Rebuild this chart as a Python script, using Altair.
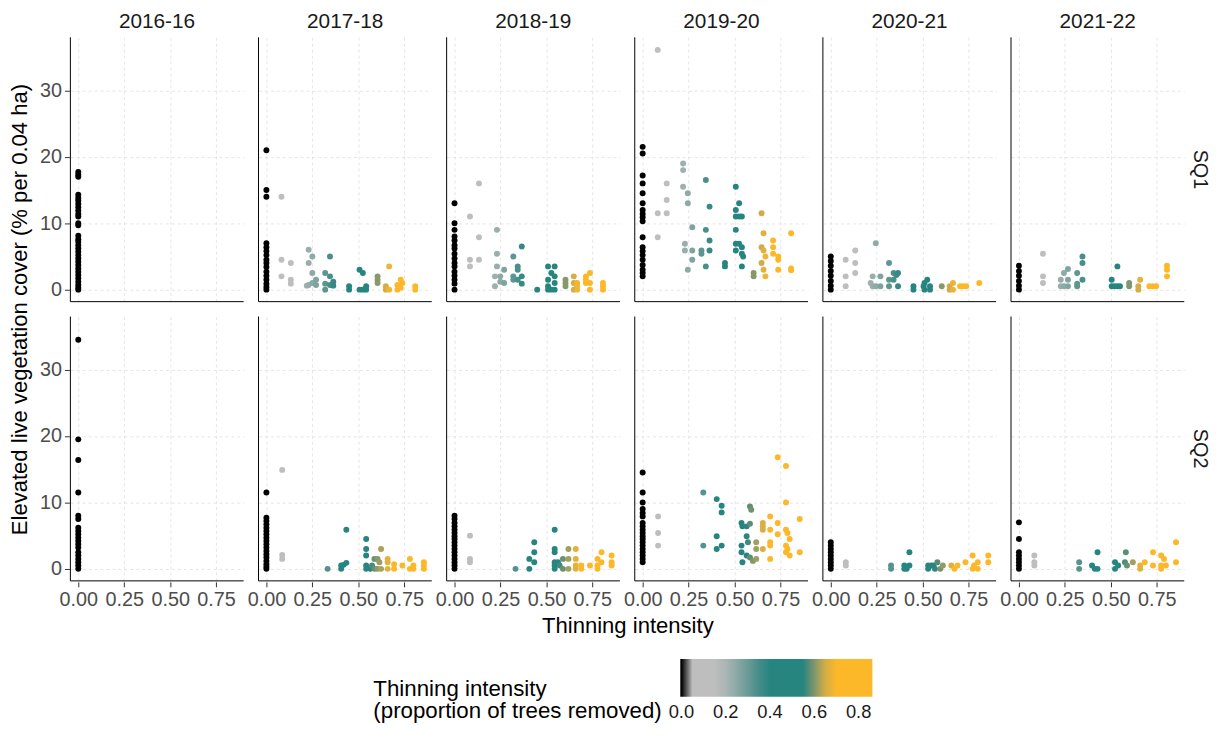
import altair as alt
import pandas as pd

# ---- data: thinning intensity -> list of elevated live vegetation cover values ----
years = ["2016-16", "2017-18", "2018-19", "2019-20", "2020-21", "2021-22"]
sites = ["SQ1", "SQ2"]

sq1_1616 = {0.0: [17.7, 17.3, 17.0, 14.3, 13.8, 13.4, 12.9, 12.4, 11.9, 11.4, 11.0, 10.0, 9.7, 8.1, 7.6,
                  7.2, 6.7, 6.2, 5.7, 5.2, 4.7, 4.2, 3.7, 3.2, 2.7, 2.2, 1.7, 1.2, 0.7, 0.3, 0.0]}
sq1_1718 = {0.0: [21.0, 15.0, 14.0, 7.0, 6.4, 5.8, 5.2, 4.5, 4.0, 3.4, 2.7, 2.1, 1.5, 0.9, 0.4, 0.0],
            0.082: [14.0, 4.5, 2.0], 0.133: [4.0, 1.5, 0.9], 0.22: [0.6], 0.23: [6.0, 4.0, 0.7],
            0.25: [5.0, 2.5, 1.0], 0.27: [1.5, 0.7], 0.32: [2.5, 0.9, 0.0], 0.346: [5.0, 2.0, 0.7],
            0.364: [1.2, 0.6], 0.45: [0.5, 0.0], 0.507: [3.0, 0.0], 0.525: [2.5, 0.0], 0.543: [0.5, 0.0],
            0.605: [2.0, 1.5, 1.0], 0.65: [0.5, 0.0], 0.668: [3.5, 0.0], 0.713: [0.7, 0.0],
            0.731: [1.5, 0.3], 0.74: [1.0], 0.81: [0.5, 0.0]}
sq1_1819 = {0.0: [13.0, 10.0, 9.0, 8.0, 7.4, 6.7, 6.2, 5.4, 4.7, 4.0, 3.5, 2.7, 2.1, 1.5, 0.9, 0.0],
            0.084: [11.0, 4.5, 3.5], 0.133: [16.0, 7.9, 4.5], 0.22: [2.0, 0.5], 0.231: [9.0, 5.4, 3.5],
            0.249: [2.0, 1.2], 0.27: [3.0, 1.0], 0.32: [5.0, 2.0, 1.5], 0.344: [3.5, 3.0, 1.5],
            0.366: [6.5, 2.0, 0.9], 0.45: [0.0], 0.509: [3.5, 1.5, 0.5, 0.0], 0.527: [2.5, 0.0],
            0.545: [3.5, 2.0, 1.0, 0.0], 0.604: [1.5, 1.0, 0.5], 0.649: [2.0, 1.0, 0.0],
            0.667: [1.0, 0.5, 0.0], 0.715: [2.0, 1.5, 1.0], 0.737: [2.5, 1.0, 0.0], 0.808: [1.0, 0.5, 0.0]}
sq1_1920 = {0.0: [21.5, 20.5, 17.2, 16.0, 14.5, 13.0, 12.0, 11.4, 10.9, 10.3, 7.9, 6.4, 5.8, 5.2, 4.5,
                  3.7, 3.0, 2.5, 2.0],
            0.082: [36.1, 11.5, 7.9], 0.131: [16.0, 13.5, 11.5], 0.22: [19.0, 18.0, 15.5], 0.23: [6.9, 5.9],
            0.246: [14.5, 13.0, 3.0], 0.27: [9.4, 5.9, 4.5], 0.32: [5.9, 5.4], 0.344: [16.5, 9.0, 3.5],
            0.364: [12.5, 7.4, 5.9], 0.448: [4.0, 3.5], 0.507: [15.5, 12.0, 11.0, 9.0, 6.9, 5.9],
            0.525: [13.0, 11.0, 6.9], 0.54: [11.0, 6.4, 5.4, 3.5], 0.547: [5.0], 0.604: [2.5, 2.0],
            0.647: [11.5, 6.4, 4.0], 0.658: [8.5, 5.9, 3.0], 0.668: [5.0, 2.0], 0.71: [7.4, 6.4, 5.4],
            0.738: [5.0, 4.5, 3.0], 0.808: [8.5, 3.2, 2.9]}
sq1_2021 = {0.0: [5.0, 4.3, 3.6, 2.8, 2.1, 1.3, 0.6, 0.0],
            0.081: [4.5, 2.0, 0.5], 0.133: [5.9, 4.0, 2.5], 0.217: [1.0], 0.228: [2.0, 0.5],
            0.245: [7.0, 0.5], 0.27: [2.0, 0.5], 0.317: [4.0, 1.5, 0.5], 0.342: [2.5, 1.5], 0.357: [2.2],
            0.366: [2.5, 0.5], 0.45: [0.5, 0.0], 0.505: [0.5], 0.51: [1.0, 0.0], 0.525: [1.5],
            0.54: [0.5, 0.0], 0.604: [0.5], 0.647: [0.5, 0.0], 0.665: [1.0, 0.0], 0.704: [0.5],
            0.72: [0.5], 0.737: [0.5], 0.808: [1.0]}
sq1_2122 = {0.0: [3.6, 2.8, 2.1, 1.3, 0.6, 0.0],
            0.131: [5.4, 2.0, 1.0], 0.228: [1.5, 0.5], 0.245: [2.5, 0.5], 0.267: [3.1, 1.5, 0.5],
            0.317: [2.5, 0.9, 0.5], 0.346: [5.0, 4.0, 1.5], 0.505: [1.5, 0.5], 0.52: [0.5],
            0.536: [3.5, 0.5], 0.55: [0.5], 0.6: [1.0, 0.5], 0.65: [0.5, 0.0], 0.66: [1.5],
            0.71: [0.5], 0.728: [0.5], 0.747: [0.5], 0.806: [3.6, 3.0, 2.0]}

sq2_1616 = {0.0: [34.5, 19.5, 16.4, 11.5, 8.0, 7.5, 6.2, 5.7, 5.2, 4.7, 4.2, 3.7, 3.2, 2.5, 2.0, 1.5,
                  1.0, 0.5, 0.0]}
sq2_1718 = {0.0: [11.5, 7.7, 7.2, 6.7, 6.2, 5.7, 5.2, 4.7, 4.2, 3.7, 3.2, 2.7, 2.2, 1.7, 1.2, 0.7, 0.3, 0.0],
            0.086: [14.9, 2.1, 1.5], 0.333: [0.0], 0.407: [0.5, 0.0], 0.42: [0.6], 0.435: [5.9, 0.9],
            0.543: [4.5, 3.0, 2.0, 0.5, 0.0], 0.565: [0.0], 0.575: [0.5], 0.588: [1.5, 0.0],
            0.605: [1.5, 0.0], 0.615: [1.0], 0.624: [3.0, 0.0], 0.66: [1.5, 1.0, 0.0], 0.695: [0.7, 0.0],
            0.74: [0.5], 0.781: [1.5, 0.0], 0.80: [0.5, 0.0], 0.857: [1.0, 0.5, 0.0]}
sq2_1819 = {0.0: [8.0, 7.5, 6.9, 6.4, 5.9, 5.4, 4.9, 4.5, 4.0, 3.5, 3.0, 2.5, 2.0, 1.5, 1.0, 0.5, 0.0],
            0.084: [5.0, 1.5, 1.0], 0.332: [0.0], 0.407: [1.5, 0.0], 0.434: [4.0, 2.5, 1.0],
            0.545: [5.9, 3.0, 2.5, 1.0, 0.5, 0.0], 0.563: [1.0], 0.572: [0.5], 0.59: [1.5, 0.0],
            0.62: [3.0, 1.5, 0.0], 0.66: [3.0, 1.5, 0.5, 0.0], 0.69: [0.5, 0.0], 0.737: [0.5],
            0.778: [1.5, 0.5, 0.0], 0.80: [2.5, 1.0], 0.855: [2.0, 1.0, 0.5]}
sq2_1920 = {0.0: [14.5, 11.5, 10.0, 9.0, 8.4, 7.9, 6.9, 6.4, 5.9, 5.4, 4.9, 4.5, 4.0, 3.5, 3.0, 2.5, 2.0,
                  1.5, 1.0],
            0.084: [7.9, 5.4, 3.5], 0.33: [11.5, 3.5], 0.403: [10.5, 4.9, 3.0], 0.43: [9.5, 8.5, 3.5],
            0.538: [6.9, 3.5, 2.5], 0.543: [6.4, 1.0], 0.566: [6.4, 4.9, 2.0], 0.573: [4.0],
            0.584: [9.4, 6.8, 1.7], 0.591: [8.9], 0.6: [1.2], 0.618: [4.0, 3.0, 1.5],
            0.654: [6.9, 6.4, 5.9, 3.0], 0.694: [7.9, 5.9, 4.0, 3.5, 1.5], 0.735: [16.8, 6.9, 5.2],
            0.78: [15.5, 10.0, 5.9, 3.5, 2.5], 0.788: [5.4, 3.0], 0.80: [4.5, 2.0], 0.855: [7.5, 2.5]}
sq2_2021 = {0.0: [4.0, 3.5, 3.0, 2.5, 2.0, 1.5, 1.0, 0.5, 0.0],
            0.082: [1.0, 0.5], 0.328: [0.5, 0.0], 0.40: [0.5, 0.0], 0.413: [0.0], 0.428: [2.5, 0.5],
            0.53: [0.5, 0.0], 0.548: [0.5], 0.56: [0.5], 0.567: [0.0], 0.58: [1.0], 0.596: [0.0],
            0.61: [0.5], 0.656: [0.5], 0.673: [0.0], 0.69: [0.5], 0.733: [1.0], 0.772: [2.0, 0.0],
            0.78: [0.5], 0.80: [1.0, 0.0], 0.857: [2.0, 1.0]}
sq2_2122 = {0.0: [7.0, 4.5, 2.5, 2.0, 1.5, 1.0, 0.5, 0.0],
            0.084: [2.0, 1.0, 0.5], 0.328: [1.0, 0.0], 0.398: [0.5], 0.413: [0.0], 0.428: [2.5, 0.0],
            0.523: [1.0, 0.0], 0.54: [0.5], 0.577: [1.0], 0.582: [2.5], 0.588: [0.5], 0.62: [1.0],
            0.66: [0.5, 0.0], 0.685: [1.0], 0.73: [2.5, 0.5], 0.774: [2.0, 0.5, 0.0], 0.79: [1.5],
            0.80: [0.5], 0.855: [4.0, 1.0]}

panels = {
    ("SQ1", "2016-16"): sq1_1616, ("SQ1", "2017-18"): sq1_1718, ("SQ1", "2018-19"): sq1_1819,
    ("SQ1", "2019-20"): sq1_1920, ("SQ1", "2020-21"): sq1_2021, ("SQ1", "2021-22"): sq1_2122,
    ("SQ2", "2016-16"): sq2_1616, ("SQ2", "2017-18"): sq2_1718, ("SQ2", "2018-19"): sq2_1819,
    ("SQ2", "2019-20"): sq2_1920, ("SQ2", "2020-21"): sq2_2021, ("SQ2", "2021-22"): sq2_2122,
}

# colour ramp stops
ramp_stops = [-0.005, 0.04, 0.042, 0.17, 0.38, 0.565, 0.675, 0.862]
ramp_colors = ["#000000", "#000000", "#BEBEBE", "#BEBEBE", "#278580", "#278580", "#FCB829", "#FCB829"]
legend_values = [0.0, 0.2, 0.4, 0.6, 0.8]
legend_title = ["\u00a0", "Thinning intensity", "(proportion of trees removed)"]

rows = []
for (site, year), groups in panels.items():
    for xv, ys in groups.items():
        for yv in ys:
            rows.append({"site": site, "year": year, "thin": xv, "cover": yv})
df = pd.DataFrame(rows)

W, H = 175, 267
FONT = "Liberation Sans"

base = alt.Chart(df)

pts = base.mark_circle(size=36, opacity=1).encode(
    x=alt.X("thin:Q", title=None,
            scale=alt.Scale(domain=[-0.043, 0.9], nice=False, zero=False),
            axis=alt.Axis(values=[0, 0.25, 0.5, 0.75], format=".2f")),
    y=alt.Y("cover:Q", title=None,
            scale=alt.Scale(domain=[-1.81, 38.0], nice=False, zero=False),
            axis=alt.Axis(values=[0, 10, 20, 30])),
    color=alt.Color("thin:Q",
                    scale=alt.Scale(domain=ramp_stops, range=ramp_colors, interpolate="lab"),
                    legend=alt.Legend(
                        title=legend_title,
                        orient="none", legendX=306, legendY=628,
                        direction="horizontal", titleOrient="left", titleBaseline="top",
                        gradientLength=194, gradientThickness=38, gradientStrokeWidth=0,
                        values=legend_values, format=".1f", labelAlign="center", labelOffset=7,
                        labelFontSize=18.5, labelColor="#1A1A1A", labelFont=FONT,
                        titleFontSize=22.5, titleFontWeight="normal", titleFont=FONT,
                        titleColor="#000000", titleLimit=500, titlePadding=18,
                        titleLineHeight=23)),
)

vline = base.transform_aggregate(n="count()", groupby=["site", "year"]).mark_rule(
    color="#000000", strokeWidth=1).encode(x=alt.value(0), y=alt.value(0), y2=alt.value(H))
hline = base.transform_aggregate(n="count()", groupby=["site", "year"]).mark_rule(
    color="#000000", strokeWidth=1).encode(x=alt.value(0), x2=alt.value(W), y=alt.value(H))

chart = alt.layer(pts, vline, hline).properties(width=W, height=H).facet(
    row=alt.Row("site:N", title="Elevated live vegetation cover (% per 0.04 ha)",
                header=alt.Header(labelOrient="right", labelAngle=90, labelFontSize=20,
                                  labelFont=FONT, labelColor="#1A1A1A", labelPadding=5,
                                  titleOrient="left", titleFontSize=22.3, titleFont=FONT,
                                  titleFontWeight="normal", titleColor="#000000", titlePadding=-2)),
    column=alt.Column("year:N", title="Thinning intensity", sort=years,
                      header=alt.Header(labelFontSize=21, labelFont=FONT, labelColor="#1A1A1A",
                                        labelPadding=4, labelOrient="top",
                                        titleOrient="bottom", titleFontSize=22.3, titleFont=FONT,
                                        titleFontWeight="normal", titleColor="#000000",
                                        titlePadding=-4)),
    spacing=13,
).properties(
    padding={"left": 0, "top": 0, "right": 2, "bottom": -1.5}
).configure_view(stroke=None).configure_axis(
    domain=False, grid=True, gridColor="#DEDEDE", gridDash=[3, 3], gridWidth=0.8,
    tickColor="#333333", tickSize=5, tickWidth=1,
    labelColor="#4D4D4D", labelFontSize=20, labelFont=FONT, labelPadding=3,
)

chart.save("out.html", embed_options={"renderer": "svg", "actions": False})
